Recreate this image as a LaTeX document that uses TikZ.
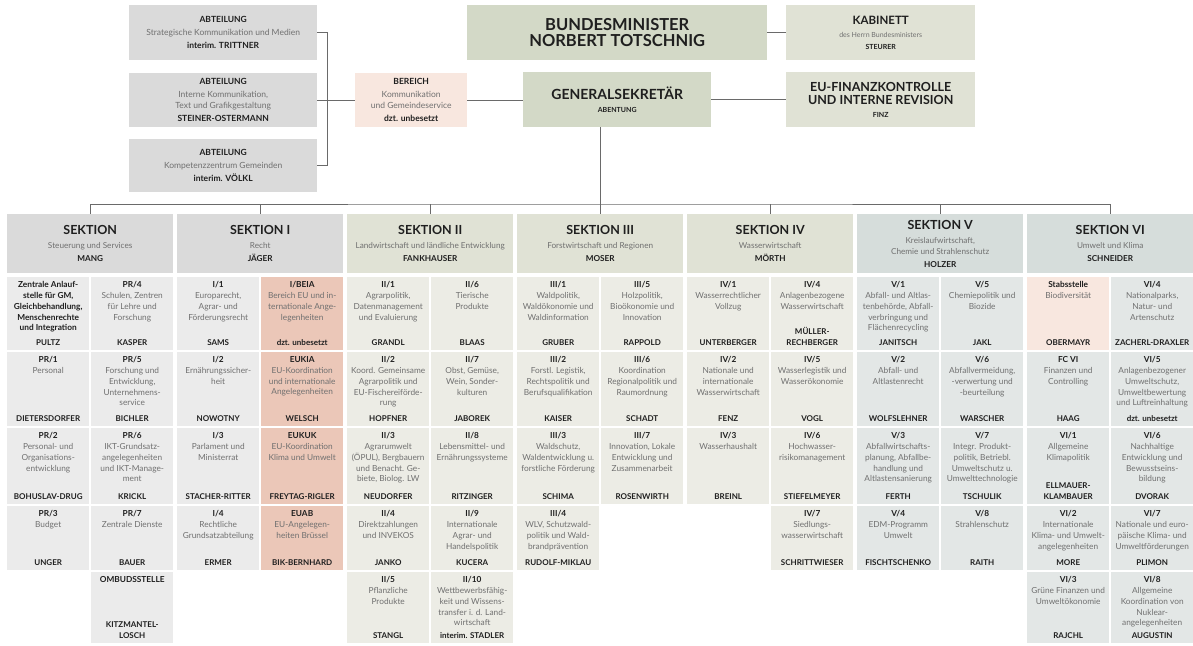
\documentclass[tikz,border=0pt]{standalone}
\usepackage{fontspec}
\setmainfont{Lato}
\usetikzlibrary{positioning}
\definecolor{GreyHead}{HTML}{DADADA}
\definecolor{GreyCell}{HTML}{EBEBEB}
\definecolor{SageTop}{HTML}{D3D9C7}
\definecolor{SageHead}{HTML}{E0E2D5}
\definecolor{SageCell}{HTML}{ECECE5}
\definecolor{BlueHead}{HTML}{D6DDDB}
\definecolor{BlueCell}{HTML}{E3E7E6}
\definecolor{RoseLight}{HTML}{F8E7DF}
\definecolor{RoseCell}{HTML}{EBC7B8}
\definecolor{Ink}{HTML}{1F1F1F}
\definecolor{DescGrey}{HTML}{707070}
\definecolor{LineGrey}{HTML}{6A6A6A}
\def\ucode#1{\textbf{\textcolor{Ink}{#1}}}
\def\bigline#1#2{{\fontsize{#1}{#1}\selectfont\bfseries\color{Ink}#2}}
\def\smallline#1{{\fontsize{7}{9}\selectfont #1}}
% #1 name #2 section #3 column #4 top #5 height #6 fill #7 unit text #8 head
\def\cell#1#2#3#4#5#6#7#8{
  \node[cellbox, fill=#6, minimum height=#5pt] (#1) at (7+170*#2+84*#3, #4) {};
  \node[celltext, below=4pt of #1.north] (#1t) {#7};
  \node[cellhead, above=5pt of #1.south] (#1n) {#8};
}
% #1 name #2 section #3 fill #4 title #5 text #6 head
\def\sektion#1#2#3#4#5#6{
  \node[sekbox, fill=#3] (#1) at (7+170*#2, 214) {\bigline{12.5}{#4}\\[3pt]#5\\[2pt]\ucode{#6}};
}

\begin{document}
\begin{tikzpicture}[x=1pt, y=-1pt,
  conn/.style={draw=LineGrey, line width=0.7pt},
  topbox/.style={anchor=north west, inner sep=0pt, align=center, text=DescGrey, font=\fontsize{8.5}{11}\selectfont},
  sekbox/.style={anchor=north west, minimum width=166pt, minimum height=59pt, inner sep=0pt, align=center, text=DescGrey, font=\fontsize{8.2}{11}\selectfont},
  cellbox/.style={anchor=north west, minimum width=82pt, inner sep=0pt},
  celltext/.style={inner sep=0pt, align=center, text=DescGrey, font=\fontsize{8.3}{10.9}\selectfont},
  cellhead/.style={inner sep=0pt, align=center, text=Ink, font=\fontsize{8}{10.6}\selectfont\bfseries}]
\useasboundingbox (0,0) rectangle (1193,645);

% top rows
\node[topbox, fill=GreyHead, minimum width=188pt, minimum height=55pt] (abt1) at (129,5) {\ucode{ABTEILUNG}\\[2pt]Strategische Kommunikation und Medien\\[2pt]\ucode{interim. TRITTNER}};
\node[topbox, fill=GreyHead, minimum width=188pt, minimum height=54pt] (abt2) at (129,73) {\ucode{ABTEILUNG}\\[2pt]Interne Kommunikation,\\Text und Grafikgestaltung\\[2pt]\ucode{STEINER-OSTERMANN}};
\node[topbox, fill=GreyHead, minimum width=188pt, minimum height=53pt] (abt3) at (129,139) {\ucode{ABTEILUNG}\\[2pt]Kompetenzzentrum Gemeinden\\[2pt]\ucode{interim. VÖLKL}};
\node[topbox, fill=RoseLight, minimum width=112pt, minimum height=54pt] (bereich) at (355,73) {\ucode{BEREICH}\\[2pt]Kommunikation\\und Gemeindeservice\\[2pt]\ucode{dzt. unbesetzt}};

\node[topbox, fill=SageTop, minimum width=300pt, minimum height=55pt] (minister) at (467,5) {\bigline{16.5}{BUNDESMINISTER}\\[3pt]\bigline{16.5}{NORBERT TOTSCHNIG}};
\node[topbox, fill=SageHead, minimum width=189pt, minimum height=55pt] (kabinett) at (786,5) {\bigline{11.5}{KABINETT}\\[2pt]\smallline{des Herrn Bundesministers}\\[1pt]\smallline{\ucode{STEURER}}};
\node[topbox, fill=SageTop, minimum width=188pt, minimum height=55pt] (gs) at (523,72) {\bigline{14}{GENERALSEKRETÄR}\\[2pt]\smallline{\ucode{ABENTUNG}}};
\node[topbox, fill=SageHead, minimum width=189pt, minimum height=55pt] (eufin) at (786,72) {\bigline{12.5}{EU-FINANZKONTROLLE}\\[2pt]\bigline{12.5}{UND INTERNE REVISION}\\[2pt]\smallline{\ucode{FINZ}}};

% sections
\sektion{s0}{0}{GreyHead}{SEKTION}{Steuerung und Services}{MANG}
\sektion{s1}{1}{GreyHead}{SEKTION I}{Recht}{JÄGER}
\sektion{s2}{2}{SageHead}{SEKTION II}{Landwirtschaft und ländliche Entwicklung}{FANKHAUSER}
\sektion{s3}{3}{SageHead}{SEKTION III}{Forstwirtschaft und Regionen}{MOSER}
\sektion{s4}{4}{SageHead}{SEKTION IV}{Wasserwirtschaft}{MÖRTH}
\sektion{s5}{5}{BlueHead}{SEKTION V}{Kreislaufwirtschaft,\\Chemie und Strahlenschutz}{HOLZER}
\sektion{s6}{6}{BlueHead}{SEKTION VI}{Umwelt und Klima}{SCHNEIDER}

% connectors
\draw[conn] (minister) -- (kabinett);
\draw[conn] (gs) -- (eufin);
\draw[conn] (bereich.east) -- (bereich.east -| gs.west);
\draw[conn] (abt2.east) -- (bereich.west);
\draw[conn] (abt1.east) -- ++(10,0) |- (abt3.east);
\coordinate (bus) at (600,204);
\draw[conn] (gs.south -| s3.north) -- (s3.north);
\draw[conn] (s0.north) |- (bus) -| (s6.north);
\foreach \k in {1,2,4,5}
  \draw[conn] (s\k.north) -- (s\k.north |- bus);

% Sektion Steuerung und Services
\cell{u0a1}{0}{0}{277}{73}{GreyCell}{\ucode{Zentrale Anlauf-}\\\ucode{stelle für GM,}\\\ucode{Gleichbehandlung,}\\\ucode{Menschenrechte}\\\ucode{und Integration}}{PULTZ}
\cell{u0b1}{0}{1}{277}{73}{GreyCell}{\ucode{PR/4}\\Schulen, Zentren\\für Lehre und\\Forschung}{KASPER}
\cell{u0a2}{0}{0}{352}{74}{GreyCell}{\ucode{PR/1}\\Personal}{DIETERSDORFER}
\cell{u0b2}{0}{1}{352}{74}{GreyCell}{\ucode{PR/5}\\Forschung und\\Entwicklung,\\Unternehmens-\\service}{BICHLER}
\cell{u0a3}{0}{0}{428}{76}{GreyCell}{\ucode{PR/2}\\Personal- und\\Organisations-\\entwicklung}{BOHUSLAV-DRUG}
\cell{u0b3}{0}{1}{428}{76}{GreyCell}{\ucode{PR/6}\\IKT-Grundsatz-\\angelegenheiten\\und IKT-Manage-\\ment}{KRICKL}
\cell{u0a4}{0}{0}{506}{64}{GreyCell}{\ucode{PR/3}\\Budget}{UNGER}
\cell{u0b4}{0}{1}{506}{64}{GreyCell}{\ucode{PR/7}\\Zentrale Dienste}{BAUER}
\cell{u0b5}{0}{1}{572}{71}{GreyCell}{\ucode{OMBUDSSTELLE}}{KITZMANTEL-\\LOSCH}

% Sektion I
\cell{u1a1}{1}{0}{277}{73}{GreyCell}{\ucode{I/1}\\Europarecht,\\Agrar- und\\Förderungsrecht}{SAMS}
\cell{u1b1}{1}{1}{277}{73}{RoseCell}{\ucode{I/BEIA}\\Bereich EU und in-\\ternationale Ange-\\legenheiten}{dzt. unbesetzt}
\cell{u1a2}{1}{0}{352}{74}{GreyCell}{\ucode{I/2}\\Ernährungssicher-\\heit}{NOWOTNY}
\cell{u1b2}{1}{1}{352}{74}{RoseCell}{\ucode{EUKIA}\\EU-Koordination\\und internationale\\Angelegenheiten}{WELSCH}
\cell{u1a3}{1}{0}{428}{76}{GreyCell}{\ucode{I/3}\\Parlament und\\Ministerrat}{STACHER-RITTER}
\cell{u1b3}{1}{1}{428}{76}{RoseCell}{\ucode{EUKUK}\\EU-Koordination\\Klima und Umwelt}{FREYTAG-RIGLER}
\cell{u1a4}{1}{0}{506}{64}{GreyCell}{\ucode{I/4}\\Rechtliche\\Grundsatzabteilung}{ERMER}
\cell{u1b4}{1}{1}{506}{64}{RoseCell}{\ucode{EUAB}\\EU-Angelegen-\\heiten Brüssel}{BIK-BERNHARD}

% Sektion II
\cell{u2a1}{2}{0}{277}{73}{SageCell}{\ucode{II/1}\\Agrarpolitik,\\Datenmanagement\\und Evaluierung}{GRANDL}
\cell{u2b1}{2}{1}{277}{73}{SageCell}{\ucode{II/6}\\Tierische\\Produkte}{BLAAS}
\cell{u2a2}{2}{0}{352}{74}{SageCell}{\ucode{II/2}\\Koord. Gemeinsame\\Agrarpolitik und\\EU-Fischereiförde-\\rung}{HOPFNER}
\cell{u2b2}{2}{1}{352}{74}{SageCell}{\ucode{II/7}\\Obst, Gemüse,\\Wein, Sonder-\\kulturen}{JABOREK}
\cell{u2a3}{2}{0}{428}{76}{SageCell}{\ucode{II/3}\\Agrarumwelt\\(ÖPUL), Bergbauern\\und Benacht. Ge-\\biete, Biolog. LW}{NEUDORFER}
\cell{u2b3}{2}{1}{428}{76}{SageCell}{\ucode{II/8}\\Lebensmittel- und\\Ernährungssysteme}{RITZINGER}
\cell{u2a4}{2}{0}{506}{64}{SageCell}{\ucode{II/4}\\Direktzahlungen\\und INVEKOS}{JANKO}
\cell{u2b4}{2}{1}{506}{64}{SageCell}{\ucode{II/9}\\Internationale\\Agrar- und\\Handelspolitik}{KUCERA}
\cell{u2a5}{2}{0}{572}{71}{SageCell}{\ucode{II/5}\\Pflanzliche\\Produkte}{STANGL}
\cell{u2b5}{2}{1}{572}{71}{SageCell}{\ucode{II/10}\\Wettbewerbsfähig-\\keit und Wissens-\\transfer i. d. Land-\\wirtschaft}{interim. STADLER}

% Sektion III
\cell{u3a1}{3}{0}{277}{73}{SageCell}{\ucode{III/1}\\Waldpolitik,\\Waldökonomie und\\Waldinformation}{GRUBER}
\cell{u3b1}{3}{1}{277}{73}{SageCell}{\ucode{III/5}\\Holzpolitik,\\Bioökonomie und\\Innovation}{RAPPOLD}
\cell{u3a2}{3}{0}{352}{74}{SageCell}{\ucode{III/2}\\Forstl. Legistik,\\Rechtspolitik und\\Berufsqualifikation}{KAISER}
\cell{u3b2}{3}{1}{352}{74}{SageCell}{\ucode{III/6}\\Koordination\\Regionalpolitik und\\Raumordnung}{SCHADT}
\cell{u3a3}{3}{0}{428}{76}{SageCell}{\ucode{III/3}\\Waldschutz,\\Waldentwicklung u.\\forstliche Förderung}{SCHIMA}
\cell{u3b3}{3}{1}{428}{76}{SageCell}{\ucode{III/7}\\Innovation, Lokale\\Entwicklung und\\Zusammenarbeit}{ROSENWIRTH}
\cell{u3a4}{3}{0}{506}{64}{SageCell}{\ucode{III/4}\\WLV, Schutzwald-\\politik und Wald-\\brandprävention}{RUDOLF-MIKLAU}

% Sektion IV
\cell{u4a1}{4}{0}{277}{73}{SageCell}{\ucode{IV/1}\\Wasserrechtlicher\\Vollzug}{UNTERBERGER}
\cell{u4b1}{4}{1}{277}{73}{SageCell}{\ucode{IV/4}\\Anlagenbezogene\\Wasserwirtschaft}{MÜLLER-\\RECHBERGER}
\cell{u4a2}{4}{0}{352}{74}{SageCell}{\ucode{IV/2}\\Nationale und\\internationale\\Wasserwirtschaft}{FENZ}
\cell{u4b2}{4}{1}{352}{74}{SageCell}{\ucode{IV/5}\\Wasserlegistik und\\Wasserökonomie}{VOGL}
\cell{u4a3}{4}{0}{428}{76}{SageCell}{\ucode{IV/3}\\Wasserhaushalt}{BREINL}
\cell{u4b3}{4}{1}{428}{76}{SageCell}{\ucode{IV/6}\\Hochwasser-\\risikomanagement}{STIEFELMEYER}
\cell{u4b4}{4}{1}{506}{64}{SageCell}{\ucode{IV/7}\\Siedlungs-\\wasserwirtschaft}{SCHRITTWIESER}

% Sektion V
\cell{u5a1}{5}{0}{277}{73}{BlueCell}{\ucode{V/1}\\Abfall- und Altlas-\\tenbehörde, Abfall-\\verbringung und\\Flächenrecycling}{JANITSCH}
\cell{u5b1}{5}{1}{277}{73}{BlueCell}{\ucode{V/5}\\Chemiepolitik und\\Biozide}{JAKL}
\cell{u5a2}{5}{0}{352}{74}{BlueCell}{\ucode{V/2}\\Abfall- und\\Altlastenrecht}{WOLFSLEHNER}
\cell{u5b2}{5}{1}{352}{74}{BlueCell}{\ucode{V/6}\\Abfallvermeidung,\\-verwertung und\\-beurteilung}{WARSCHER}
\cell{u5a3}{5}{0}{428}{76}{BlueCell}{\ucode{V/3}\\Abfallwirtschafts-\\planung, Abfallbe-\\handlung und\\Altlastensanierung}{FERTH}
\cell{u5b3}{5}{1}{428}{76}{BlueCell}{\ucode{V/7}\\Integr. Produkt-\\politik, Betriebl.\\Umweltschutz u.\\Umwelttechnologie}{TSCHULIK}
\cell{u5a4}{5}{0}{506}{64}{BlueCell}{\ucode{V/4}\\EDM-Programm\\Umwelt}{FISCHTSCHENKO}
\cell{u5b4}{5}{1}{506}{64}{BlueCell}{\ucode{V/8}\\Strahlenschutz}{RAITH}

% Sektion VI
\cell{u6a1}{6}{0}{277}{73}{RoseLight}{\ucode{Stabsstelle}\\Biodiversität}{OBERMAYR}
\cell{u6b1}{6}{1}{277}{73}{BlueCell}{\ucode{VI/4}\\Nationalparks,\\Natur- und\\Artenschutz}{ZACHERL-DRAXLER}
\cell{u6a2}{6}{0}{352}{74}{BlueCell}{\ucode{FC VI}\\Finanzen und\\Controlling}{HAAG}
\cell{u6b2}{6}{1}{352}{74}{BlueCell}{\ucode{VI/5}\\Anlagenbezogener\\Umweltschutz,\\Umweltbewertung\\und Luftreinhaltung}{dzt. unbesetzt}
\cell{u6a3}{6}{0}{428}{76}{BlueCell}{\ucode{VI/1}\\Allgemeine\\Klimapolitik}{ELLMAUER-\\KLAMBAUER}
\cell{u6b3}{6}{1}{428}{76}{BlueCell}{\ucode{VI/6}\\Nachhaltige\\Entwicklung und\\Bewusstseins-\\bildung}{DVORAK}
\cell{u6a4}{6}{0}{506}{64}{BlueCell}{\ucode{VI/2}\\Internationale\\Klima- und Umwelt-\\angelegenheiten}{MORE}
\cell{u6b4}{6}{1}{506}{64}{BlueCell}{\ucode{VI/7}\\Nationale und euro-\\päische Klima- und\\Umweltförderungen}{PLIMON}
\cell{u6a5}{6}{0}{572}{71}{BlueCell}{\ucode{VI/3}\\Grüne Finanzen und\\Umweltökonomie}{RAJCHL}
\cell{u6b5}{6}{1}{572}{71}{BlueCell}{\ucode{VI/8}\\Allgemeine\\Koordination von\\Nuklear-\\angelegenheiten}{AUGUSTIN}

\end{tikzpicture}
\end{document}
